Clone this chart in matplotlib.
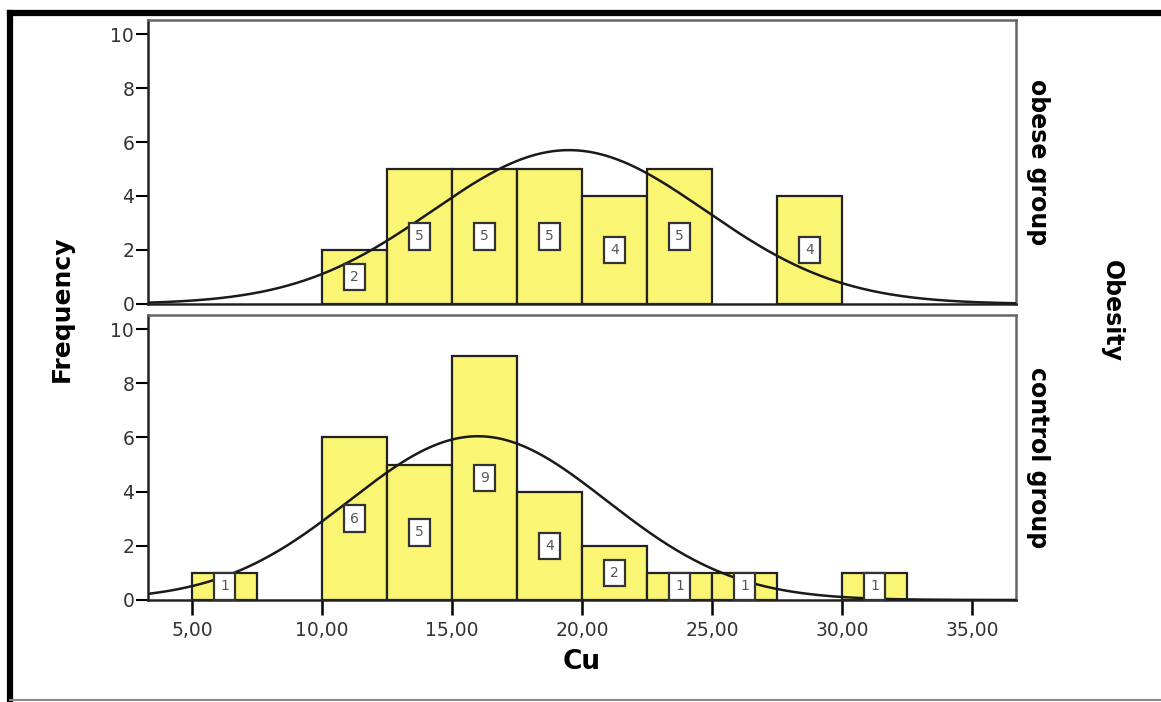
import numpy as np
import matplotlib.pyplot as plt
from matplotlib.lines import Line2D

# Histogram bins (left edges, width 2.5) and counts per group
bin_width = 2.5
obese_edges = [10.0, 12.5, 15.0, 17.5, 20.0, 22.5, 27.5]
obese_counts = [2, 5, 5, 5, 4, 5, 4]
control_edges = [5.0, 10.0, 12.5, 15.0, 17.5, 20.0, 22.5, 25.0, 30.0]
control_counts = [1, 6, 5, 9, 4, 2, 1, 1, 1]

# Fitted normal curves (mean, sd)
obese_mean, obese_sd = 19.5, 5.25
control_mean, control_sd = 16.0, 4.95

x_ticks = [5, 10, 15, 20, 25, 30, 35]
x_labels = ["5,00", "10,00", "15,00", "20,00", "25,00", "30,00", "35,00"]
y_ticks = [0, 2, 4, 6, 8, 10]

bar_color = "#faf572"
plt.rcParams["font.family"] = ["DejaVu Sans"]

fig = plt.figure(figsize=(11.61, 7.02), dpi=100)
ax_top = fig.add_axes([0.1275, 0.567, 0.7476, 0.4045])
ax_bot = fig.add_axes([0.1275, 0.1453, 0.7476, 0.406])

xmin, xmax = 3.31, 36.69
xs = np.linspace(xmin, xmax, 400)


def draw_panel(ax, edges, counts, mean, sd, label):
    ax.bar(edges, counts, width=bin_width, align="edge", color=bar_color,
           edgecolor="#222222", linewidth=1.6, zorder=2)
    n = sum(counts)
    curve = n * bin_width * np.exp(-0.5 * ((xs - mean) / sd) ** 2) / (sd * np.sqrt(2 * np.pi))
    ax.plot(xs, curve, color="#1a1a1a", linewidth=1.8, zorder=3)
    for e, c in zip(edges, counts):
        ax.text(e + bin_width / 2, c / 2, str(c), ha="center", va="center",
                fontsize=10, color="#555555", zorder=4,
                bbox=dict(boxstyle="square,pad=0.45", facecolor="white",
                          edgecolor="#333333", linewidth=1.6))
    ax.set_xlim(xmin, xmax)
    ax.set_ylim(0, 10.52)
    ax.set_yticks(y_ticks)
    ax.tick_params(axis="y", direction="out", length=9, width=1.5,
                   labelsize=13.5, labelcolor="#333333", pad=1)
    for side in ["left", "bottom"]:
        ax.spines[side].set_color("#222222")
        ax.spines[side].set_linewidth(1.8)
    for side in ["top", "right"]:
        ax.spines[side].set_color("#666666")
        ax.spines[side].set_linewidth(1.8)
    ax.text(1.025, 0.5, label, transform=ax.transAxes, rotation=-90,
            ha="center", va="center", fontsize=17, fontweight="bold")


draw_panel(ax_top, obese_edges, obese_counts, obese_mean, obese_sd, "obese group")
draw_panel(ax_bot, control_edges, control_counts, control_mean, control_sd, "control group")

ax_top.set_xticks([])
ax_bot.set_xticks(x_ticks)
ax_bot.set_xticklabels(x_labels)
ax_bot.tick_params(axis="x", direction="out", length=11, width=1.8,
                   labelsize=13.5, labelcolor="#333333", pad=4)

fig.text(0.053, 0.56, "Frequency", rotation=90, ha="center", va="center",
         fontsize=18, fontweight="bold")
fig.text(0.501, 0.057, "Cu", ha="center", va="center",
         fontsize=19, fontweight="bold")
fig.text(0.958, 0.557, "Obesity", rotation=-90, ha="center", va="center",
         fontsize=17, fontweight="bold")

# outer frame: heavy black top and left, thin grey bottom
fig.add_artist(Line2D([0.0085, 1.0], [0.9815, 0.9815], color="black", linewidth=4.5,
                      transform=fig.transFigure))
fig.add_artist(Line2D([0.0085, 0.0085], [0.004, 0.9815], color="black", linewidth=4.5,
                      transform=fig.transFigure))
fig.add_artist(Line2D([0.0085, 1.0], [0.003, 0.003], color="#888888", linewidth=1.5,
                      transform=fig.transFigure))

fig.savefig("out.png", dpi=100)
